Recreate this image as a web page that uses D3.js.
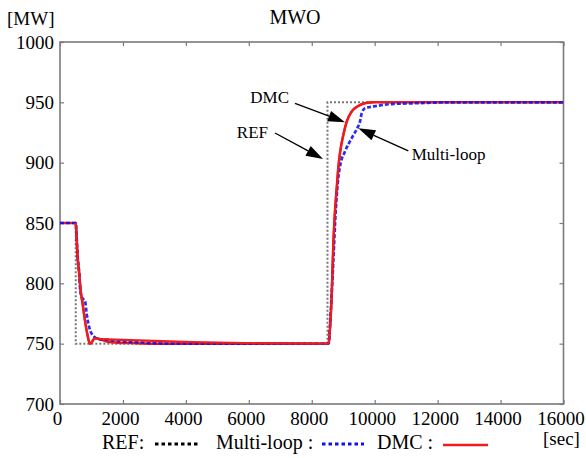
<!DOCTYPE html>
<html>
<head>
<meta charset="utf-8">
<script src="https://cdn.jsdelivr.net/npm/d3@7"></script>
<style>
  html, body { margin: 0; padding: 0; background: #fff; }
  svg { display: block; }
  svg text { font-family: "Liberation Serif", "Times New Roman", Times, "DejaVu Serif", serif; }
</style>
</head>
<body>
<svg id="chart" width="586" height="458"></svg>
<script>
// Reference set-point (step changes)
const refTime = [0, 500, 500, 8500, 8500, 16000];
const refMW   = [850, 850, 750, 750, 950, 950];

// Multi-loop controller response
const mlTime = [0, 500, 520, 555, 613, 636, 690, 740, 795, 849, 931, 1058, 1217, 1589, 1907, 2542, 3500,
                8500, 8540, 8581, 8685, 8762, 8844, 8921, 9057, 9270, 9448, 9534, 9588, 9693, 10065, 10488, 11336, 12489, 16000];
const mlMW   = [850, 850, 843, 824, 807.5, 796.7, 788.5, 787, 785.4, 774.4, 763.4, 756.5, 753.8, 753, 752, 751, 750,
                750, 750, 766, 818.4, 860, 887.6, 899.8, 909.3, 920.4, 928.7, 934, 941, 945, 947, 948.5, 949.3, 950, 950];

// DMC controller response
const dmcTime = [0, 500, 520, 555, 613, 658, 721, 795, 868, 931, 960, 1112, 1271, 1450, 1750, 2250, 3000,
                 8500, 8540, 8581, 8635, 8685, 8739, 8794, 8844, 8898, 9003, 9111, 9270, 9480, 9693, 9957, 11000, 16000];
const dmcMW   = [850, 850, 843, 824, 807.5, 793.7, 782.6, 768.9, 757.9, 751, 750, 754.6, 753.7, 752, 751, 750.5, 750,
                 750, 751, 763, 791, 832, 860, 879, 895.6, 908, 923, 934, 942.4, 947, 949.3, 950, 950, 950];

// Axis ticks
const xTicks = [0, 2000, 4000, 6000, 8000, 10000, 12000, 14000, 16000];
const yTicks = [700, 750, 800, 850, 900, 950, 1000];

// Callout labels: text anchor point, arrow tail and arrow tip (data units)
const calloutLabels = ["DMC", "REF", "Multi-loop"];
const calloutText   = [[7278, 949.4, "end"], [6610, 920.4, "end"], [11177, 902.2, "start"]];
const calloutTail   = [[7468, 949.2], [6833, 924.6], [11069, 909.7]];
const calloutTip    = [[9057, 933.5], [8358, 903.0], [9480, 928.5]];

const svg = d3.select("#chart");
const x = d3.scaleLinear().domain([0, 16000]).range([60, 563.5]);
const y = d3.scaleLinear().domain([700, 1000]).range([404, 42]);

const frameColor = "#7a7a7a";
const fontSize = 19;
const serif = '"Liberation Serif", "Times New Roman", Times, "DejaVu Serif", serif';

// Plot frame
svg.append("rect")
  .attr("x", x(0)).attr("y", y(1000))
  .attr("width", x(16000) - x(0)).attr("height", y(700) - y(1000))
  .attr("fill", "none").attr("stroke", frameColor).attr("stroke-width", 1.6);

function styleAxis(g, showText) {
  g.attr("font-family", serif).attr("font-size", fontSize);
  g.select(".domain").remove();
  g.selectAll(".tick line").attr("stroke", frameColor).attr("stroke-width", 1.2);
  g.selectAll(".tick text")
    .attr("fill", "#000")
    .style("font-size", fontSize + "px")
    .style("display", showText ? null : "none");
}

svg.append("g").attr("transform", `translate(0,${y(700)})`)
  .call(d3.axisBottom(x).tickValues(xTicks).tickSizeInner(-4).tickSizeOuter(0).tickPadding(8).tickFormat(d3.format("d")))
  .call(g => styleAxis(g, true))
  .call(g => g.selectAll(".tick text").attr("dx", -3));
svg.append("g").attr("transform", `translate(0,${y(1000)})`)
  .call(d3.axisTop(x).tickValues(xTicks).tickSizeInner(-4).tickSizeOuter(0))
  .call(g => styleAxis(g, false));
svg.append("g").attr("transform", `translate(${x(0)},0)`)
  .call(d3.axisLeft(y).tickValues(yTicks).tickSizeInner(-4).tickSizeOuter(0).tickPadding(6).tickFormat(d3.format("d")))
  .call(g => styleAxis(g, true));
svg.append("g").attr("transform", `translate(${x(16000)},0)`)
  .call(d3.axisRight(y).tickValues(yTicks).tickSizeInner(-4).tickSizeOuter(0))
  .call(g => styleAxis(g, false));

// Series
const zip = (ts, vs) => ts.map((t, i) => [t, vs[i]]);
const lineLinear = d3.line().x(d => x(d[0])).y(d => y(d[1]));
const lineSmooth = d3.line().x(d => x(d[0])).y(d => y(d[1])).curve(d3.curveMonotoneX);

svg.append("path").datum(zip(refTime, refMW))
  .attr("d", lineLinear).attr("fill", "none")
  .attr("stroke", "#777").attr("stroke-width", 2).attr("stroke-dasharray", "2,2");

svg.append("path").datum(zip(dmcTime, dmcMW))
  .attr("d", lineSmooth).attr("fill", "none")
  .attr("stroke", "#ee1c1c").attr("stroke-width", 2.5).attr("stroke-linejoin", "round");

// Multi-loop dashes, slightly see-through so overlapping stretches blend
svg.append("path").datum(zip(mlTime, mlMW))
  .attr("d", lineSmooth).attr("fill", "none")
  .attr("stroke", "#1010ee").attr("stroke-width", 2.7).attr("stroke-dasharray", "4,2")
  .attr("stroke-opacity", 0.88);

// DMC transients drawn again on top so they stay visible
svg.append("path").datum(zip(dmcTime, dmcMW).filter(d => (d[0] > 480 && d[0] < 1300) || (d[0] > 8480 && d[0] < 10000)))
  .attr("d", lineSmooth).attr("fill", "none")
  .attr("stroke", "#ee1c1c").attr("stroke-width", 2.2);

// Callouts with arrows
calloutLabels.forEach((label, i) => {
  const [tx, ty, anchor] = calloutText[i];
  const x1 = x(calloutTail[i][0]), y1 = y(calloutTail[i][1]);
  const x2 = x(calloutTip[i][0]), y2 = y(calloutTip[i][1]);
  const ang = Math.atan2(y2 - y1, x2 - x1);
  const headLen = 17, headHalf = 5.5;
  const bx = x2 - headLen * Math.cos(ang), by = y2 - headLen * Math.sin(ang);
  svg.append("line")
    .attr("x1", x1).attr("y1", y1).attr("x2", bx).attr("y2", by)
    .attr("stroke", "#000").attr("stroke-width", 1.3);
  const px = -Math.sin(ang) * headHalf, py = Math.cos(ang) * headHalf;
  svg.append("path")
    .attr("d", `M${x2},${y2}L${bx + px},${by + py}L${bx - px},${by - py}Z`)
    .attr("fill", "#000");
  svg.append("text")
    .attr("x", x(tx)).attr("y", y(ty))
    .attr("text-anchor", anchor)
    .style("font-size", "17px")
    .text(label);
});

// Titles
svg.append("text").attr("x", 295).attr("y", 24).attr("text-anchor", "middle")
  .style("font-size", "20px").text("MWO");
svg.append("text").attr("x", 7).attr("y", 25)
  .style("font-size", fontSize + "px").text("[MW]");
svg.append("text").attr("x", 543).attr("y", 445)
  .style("font-size", fontSize + "px").text("[sec]");

// Legend
const legendSize = 20;
const legend = svg.append("g");
legend.append("text").attr("x", 102).attr("y", 449).style("font-size", legendSize + "px").text("REF:");
legend.append("line").attr("x1", 155).attr("x2", 198).attr("y1", 444).attr("y2", 444)
  .attr("stroke", "#000").attr("stroke-width", 3).attr("stroke-dasharray", "3.5,3");
legend.append("text").attr("x", 216).attr("y", 449).style("font-size", legendSize + "px").text("Multi-loop :");
legend.append("line").attr("x1", 322).attr("x2", 364).attr("y1", 444).attr("y2", 444)
  .attr("stroke", "#1010ee").attr("stroke-width", 3).attr("stroke-dasharray", "3.5,3");
legend.append("text").attr("x", 377).attr("y", 449).style("font-size", legendSize + "px").text("DMC :");
legend.append("line").attr("x1", 443).attr("x2", 488).attr("y1", 445).attr("y2", 445)
  .attr("stroke", "#ee1c1c").attr("stroke-width", 2.5);
</script>
</body>
</html>
